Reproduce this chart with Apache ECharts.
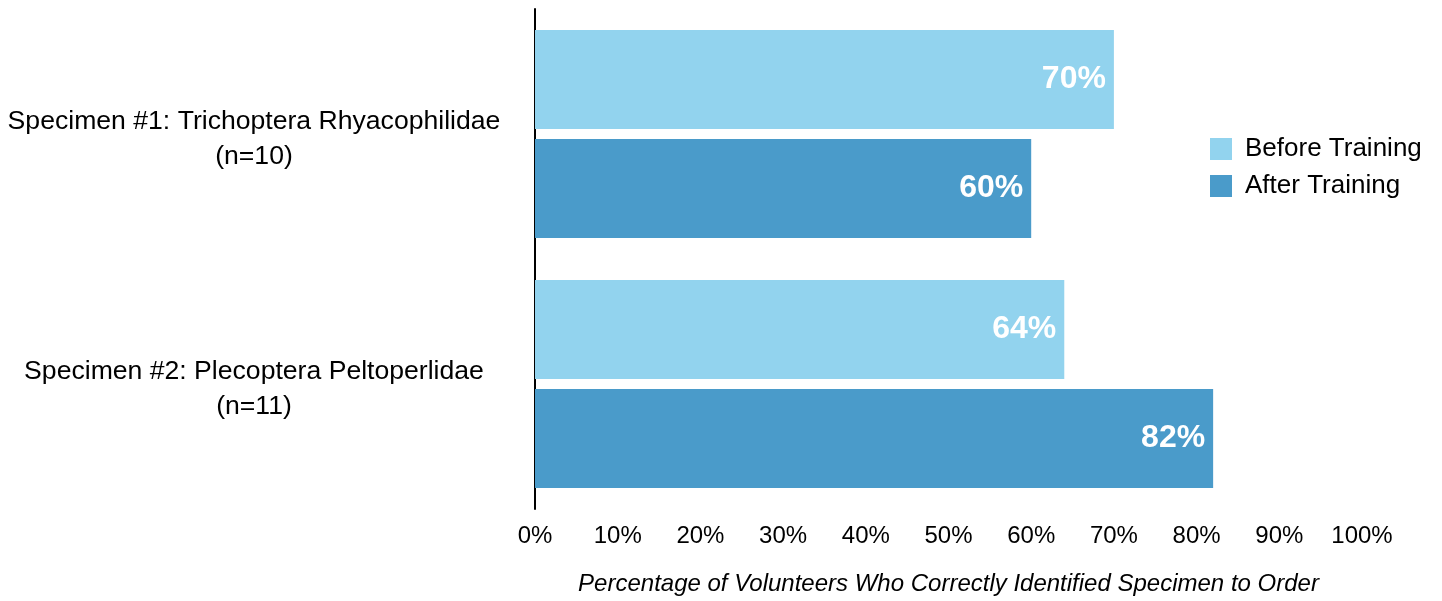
<!DOCTYPE html>
<html>
<head>
<meta charset="utf-8">
<script src="https://cdn.jsdelivr.net/npm/echarts@6/dist/echarts.min.js"></script>
<style>html,body{margin:0;padding:0;background:#fff;}#c{width:1442px;height:601px;}</style>
</head>
<body>
<div id="c"></div>
<script>
const categories = ["Specimen #1: Trichoptera Rhyacophilidae\n(n=10)", "Specimen #2: Plecoptera Peltoperlidae\n(n=11)"];
const seriesNames = ["Before Training", "After Training"];
const beforeValues = [70, 64];
const afterValues = [60, 82];
const xAxisName = "Percentage of Volunteers Who Correctly Identified Specimen to Order";
const font = "'Liberation Sans', Arial, Helvetica, sans-serif";

const catStyle = {fontSize: 26.6, color: '#000', fontFamily: font, align: 'center'};

const chart = echarts.init(document.getElementById('c'));
chart.setOption({
  animation: false,
  textStyle: {fontFamily: font},
  legend: {
    orient: 'vertical', left: 1205, top: 131,
    icon: 'rect',
    itemWidth: 22, itemHeight: 22, itemGap: 11,
    textStyle: {fontSize: 26, color: '#000', fontFamily: font, padding: [0, 0, 0, 8]},
    data: seriesNames
  },
  grid: {left: 535, right: 80, top: 9, bottom: 92, outerBoundsMode: 'none', containLabel: false},
  xAxis: {
    type: 'value', min: 0, max: 100, interval: 10,
    axisLine: {show: false}, axisTick: {show: false}, splitLine: {show: false},
    axisLabel: {formatter: '{value}%', fontSize: 24, color: '#000', margin: 15, fontFamily: font},
    name: xAxisName, nameLocation: 'middle', nameGap: 63,
    nameTextStyle: {fontSize: 24, fontStyle: 'italic', color: '#000', fontFamily: font}
  },
  yAxis: {
    type: 'category', data: categories, inverse: true,
    axisLine: {show: true, lineStyle: {color: '#000', width: 2}},
    axisTick: {show: false},
    axisLabel: {
      align: 'center', margin: 281, fontSize: 26.6, lineHeight: 35, color: '#000', fontFamily: font,
      formatter: function (v) {
        return v.split('\n').map(function (s, i) { return (i === 0 ? '{a|' : '{b|') + s + '}'; }).join('\n');
      },
      rich: {
        a: Object.assign({lineHeight: 45, padding: [10, 0, 0, 0]}, catStyle),
        b: Object.assign({lineHeight: 35}, catStyle)
      }
    }
  },
  series: [
    {name: seriesNames[0], type: 'bar', data: beforeValues, barWidth: 99, barGap: '10%',
     itemStyle: {color: '#92d3ee'},
     label: {show: true, position: 'insideRight', distance: 8, formatter: '{c}%', color: '#fff', fontWeight: 'bold', fontSize: 32, fontFamily: font}},
    {name: seriesNames[1], type: 'bar', data: afterValues, barWidth: 99, barGap: '10%',
     itemStyle: {color: '#4a9bca'},
     label: {show: true, position: 'insideRight', distance: 8, formatter: '{c}%', color: '#fff', fontWeight: 'bold', fontSize: 32, fontFamily: font}}
  ]
});
</script>
</body>
</html>
